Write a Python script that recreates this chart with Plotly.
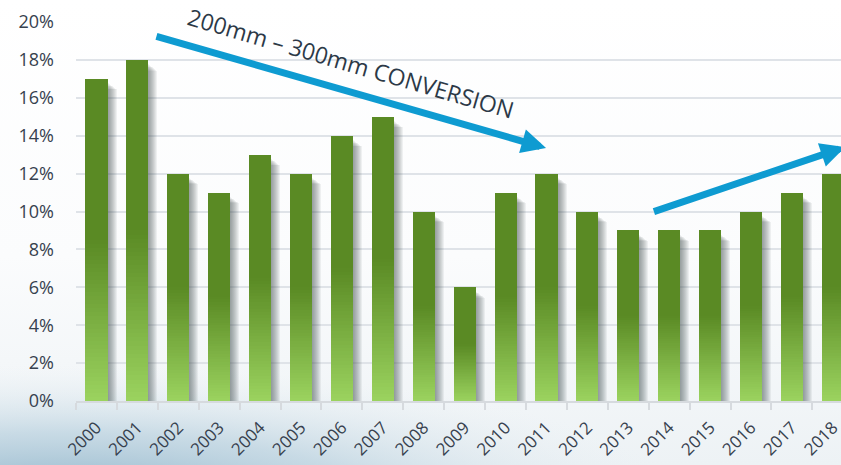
import base64
import plotly.graph_objects as go

# ---------------- data ----------------
years = ["2000", "2001", "2002", "2003", "2004", "2005", "2006", "2007", "2008", "2009",
         "2010", "2011", "2012", "2013", "2014", "2015", "2016", "2017", "2018"]
share = [17, 18, 12, 11, 13, 12, 14, 15, 10, 6, 11, 12, 10, 9, 9, 9, 10, 11, 12]
y_ticks = [0, 2, 4, 6, 8, 10, 12, 14, 16, 18, 20]
y_tick_text = ["0%", "2%", "4%", "6%", "8%", "10%", "12%", "14%", "16%", "18%", "20%"]
note_text = "200mm – 300mm CONVERSION"

# ---------------- style ----------------
W_PX, H_PX = 841, 465
M_L, M_R, M_T, M_B = 76, 0, 22, 64
X_RANGE = [-0.5, 18.2]
PLOT_W = W_PX - M_L - M_R
PX = (X_RANGE[1] - X_RANGE[0]) / PLOT_W      # category units per pixel
BAR_W = 0.54
LIGHT = (0x9b, 0xd3, 0x5f)
DARK = (0x5a, 0x8a, 0x24)
SPLIT = 0.5
NSEG = 40
TEXT_COL = "#37414e"
ARROW_COL = "#0e9bd1"
FONT = "Open Sans"


def mix(t):
    r = [round(LIGHT[i] + (DARK[i] - LIGHT[i]) * t) for i in range(3)]
    return "rgb(%d,%d,%d)" % tuple(r)


fig = go.Figure()

# soft drop shadows right of the bars
for s in [1, 2, 3, 4, 5, 6, 7, 8, 9]:
    drop = 0.2 + 0.04 * s
    fig.add_trace(go.Bar(
        x=years, y=[max(v - drop, 0) for v in share], base=0,
        width=BAR_W, offset=-BAR_W / 2 + s * PX,
        marker=dict(color="rgba(60,65,75,0.07)", line=dict(width=0)),
        hoverinfo="skip", showlegend=False))

# gradient bars (lower part graded, upper part solid)
for k in range(NSEG):
    f0 = SPLIT * k / NSEG
    f1 = SPLIT * (k + 1) / NSEG
    fig.add_trace(go.Bar(
        x=years, y=[v * (f1 - f0) for v in share], base=[v * f0 for v in share],
        width=BAR_W, offset=-BAR_W / 2,
        marker=dict(color=mix((k + 0.5) / NSEG), line=dict(width=0)),
        hoverinfo="skip", showlegend=False))
fig.add_trace(go.Bar(
    x=years, y=[v * (1 - SPLIT) for v in share], base=[v * SPLIT for v in share],
    width=BAR_W, offset=-BAR_W / 2,
    marker=dict(color=mix(1.0), line=dict(width=0)),
    customdata=share, hovertemplate="%{x}: %{customdata}%<extra></extra>",
    showlegend=False))

# ---------------- background ----------------
svg = (
    "<svg xmlns='http://www.w3.org/2000/svg' width='841' height='465' viewBox='0 0 841 465'>"
    "<defs>"
    "<linearGradient id='g1' x1='0' y1='0' x2='0' y2='1'>"
    "<stop offset='0' stop-color='#ffffff'/>"
    "<stop offset='0.55' stop-color='#fbfcfd'/>"
    "<stop offset='1' stop-color='#edf2f5'/>"
    "</linearGradient>"
    "<radialGradient id='g2'>"
    "<stop offset='0' stop-color='#88afc6' stop-opacity='1'/>"
    "<stop offset='0.5' stop-color='#b3cddc' stop-opacity='0.65'/>"
    "<stop offset='1' stop-color='#e6eef3' stop-opacity='0'/>"
    "</radialGradient>"
    "</defs>"
    "<rect width='841' height='465' fill='url(#g1)'/>"
    "<ellipse cx='60' cy='500' rx='620' ry='135' fill='url(#g2)'/>"
    "</svg>"
)
src = "data:image/svg+xml;base64," + base64.b64encode(svg.encode()).decode()
PLOT_H = H_PX - M_T - M_B
fig.add_layout_image(dict(
    source=src, xref="paper", yref="paper",
    x=-M_L / PLOT_W, y=1 + M_T / PLOT_H,
    sizex=W_PX / PLOT_W, sizey=H_PX / PLOT_H,
    xanchor="left", yanchor="top", sizing="stretch", layer="below"))

# ---------------- annotations ----------------
fig.add_annotation(x=10.99, y=13.35, ax=1.43, ay=19.26, xref="x", yref="y",
                   axref="x", ayref="y", text="", showarrow=True,
                   arrowhead=2, arrowsize=0.7, arrowwidth=7,
                   arrowcolor=ARROW_COL, standoff=0, startstandoff=0)
fig.add_annotation(x=18.3, y=13.4, ax=13.59, ay=9.97, xref="x", yref="y",
                   axref="x", ayref="y", text="", showarrow=True,
                   arrowhead=2, arrowsize=0.7, arrowwidth=7,
                   arrowcolor=ARROW_COL, standoff=0, startstandoff=0)
fig.add_annotation(x=6.22, y=17.85, xref="x", yref="y", text=note_text,
                   showarrow=False, textangle=16.2,
                   font=dict(family=FONT, size=23, color="#2c3947"))

fig.update_layout(
    width=W_PX, height=H_PX,
    margin=dict(l=M_L, r=M_R, t=M_T, b=M_B, pad=0, autoexpand=False),
    paper_bgcolor="#ffffff", plot_bgcolor="rgba(0,0,0,0)",
    barmode="overlay", bargap=0,
    xaxis=dict(type="category", categoryorder="array", categoryarray=years,
               range=X_RANGE, showgrid=False, zeroline=False, automargin=False,
               showline=True, linecolor="#d6dade", linewidth=2,
               ticks="outside", tickson="boundaries", ticklen=7,
               tickcolor="#d6dade", tickwidth=1.5, tickangle=-45,
               ticklabelstandoff=8,
               tickfont=dict(family=FONT, size=17, color=TEXT_COL)),
    yaxis=dict(range=[0, 20], tickvals=y_ticks, ticktext=y_tick_text,
               automargin=False,
               showgrid=True, gridcolor="#dfe3e8", gridwidth=2,
               zeroline=False, showline=False, ticks="",
               ticklabelstandoff=21,
               tickfont=dict(family=FONT, size=18, color=TEXT_COL)),
    font=dict(family=FONT),
)

fig.write_html("out.html", config={"displayModeBar": False})
